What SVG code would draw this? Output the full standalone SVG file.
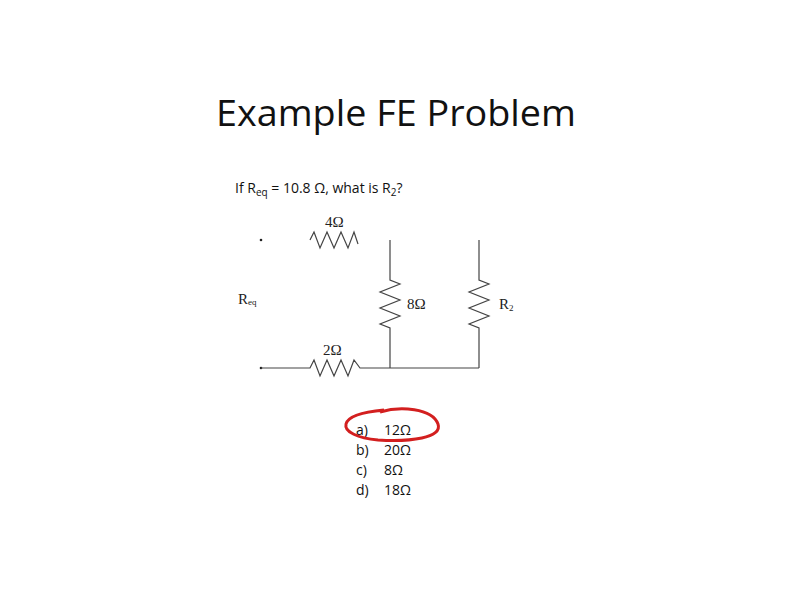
<svg xmlns="http://www.w3.org/2000/svg" width="792" height="612" viewBox="0 0 792 612">
<style>
.w{fill:none;stroke:#444;stroke-width:1.2}
.c{font-family:"Liberation Serif",serif;font-size:15px;fill:#222}
.t{font-family:"Open Sans","Liberation Sans",sans-serif;fill:#111}
</style>
<rect width="792" height="612" fill="#fff"/>
<text class="t" x="396" y="126" font-size="37" text-anchor="middle" textLength="360" lengthAdjust="spacingAndGlyphs">Example FE Problem</text>
<text class="t" x="235" y="193" font-size="14">If R<tspan font-size="10" dy="3">eq</tspan><tspan dy="-3"> = 10.8 Ω, what is R</tspan><tspan font-size="10" dy="3">2</tspan><tspan dy="-3">?</tspan></text>
<g id="circuit">
<circle cx="261" cy="240" r="1.3" fill="#222"/>
<circle cx="261" cy="368" r="1.3" fill="#222"/>
<polyline class="w" points="310,240 314,232 320,248 327,232 334,248 341,232 348,248 354,232 358,244"/>
<polyline class="w" points="390,240 390,280 400,284 380,292 400,300 380,308 400,316 380,324 390,328 390,368"/>
<polyline class="w" points="479,240 479,280 489,284 469,292 489,300 469,308 489,316 469,324 479,328 479,368"/>
<polyline class="w" points="261,368 310,368 314,360 320,376 327,360 334,376 341,360 348,376 354,360 360,368 479,368"/>
<text class="c" x="325" y="227">4Ω</text>
<text class="c" x="407" y="309">8Ω</text>
<text class="c" x="499" y="309">R<tspan font-size="9" dy="2">2</tspan></text>
<text class="c" x="323" y="355">2Ω</text>
<text class="c" x="238" y="304">R<tspan font-size="9" dy="1">eq</tspan></text>
</g>
<g id="answers" class="t" font-size="14">
<text x="356" y="435">a)</text><text x="384" y="435">12Ω</text>
<text x="356" y="455">b)</text><text x="384" y="455">20Ω</text>
<text x="356" y="475">c)</text><text x="384" y="475">8Ω</text>
<text x="356" y="495">d)</text><text x="384" y="495">18Ω</text>
</g>
<path d="M380,412 C400,406 432,408 438,424 C443,438 410,442 378,440 C358,438 344,432 346,424 C348,416 362,412 384,410" fill="none" stroke="#d31f1f" stroke-width="3"/>
</svg>
